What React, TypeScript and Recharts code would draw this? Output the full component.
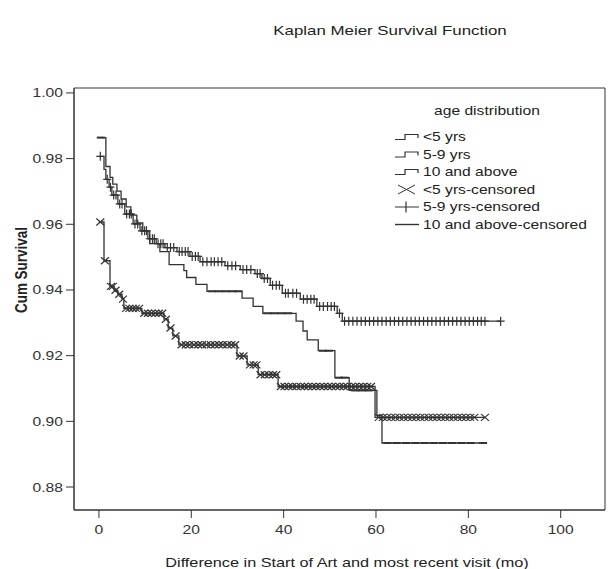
import React from "react";
import { ComposedChart, Line, Scatter, XAxis, YAxis, ReferenceArea } from "recharts";

const W = 610;
const H = 569;
const INK = "#333";
const FONT = "'Liberation Sans', Arial, sans-serif";
// the source figure is stretched sideways, so text is widened to match
const STRETCH = 1.25;

const X_TICKS = [0, 20, 40, 60, 80, 100];
const Y_TICKS = [0.88, 0.9, 0.92, 0.94, 0.96, 0.98, 1.0];

// step changes: month -> cumulative survival
const under5Times = [0, 1.1, 2.4, 3.3, 4.1, 5.0, 5.4, 9.3, 14.1, 15.0, 16.0, 17.3, 29.9, 32.1, 34.5, 38.8, 59.8, 83.6];
const under5Surv = [0.9607, 0.9489, 0.9411, 0.9399, 0.9387, 0.9372, 0.9344, 0.9329, 0.9311, 0.9284, 0.926, 0.9233, 0.9199, 0.9172, 0.9142, 0.9106, 0.9012, 0.9012];

const age59Times = [0, 1.1, 1.5, 2.2, 2.8, 4.1, 5.6, 7.4, 8.9, 10.6, 12.4, 14.3, 16.9, 19.7, 21.9, 27.3, 30.6, 33.8, 35.3, 37.1, 39.7, 43.6, 47.2, 51.6, 52.7, 87.0];
const age59Surv = [0.9807, 0.9767, 0.9737, 0.9713, 0.9689, 0.9662, 0.9631, 0.9601, 0.958, 0.9556, 0.9541, 0.9529, 0.9517, 0.9502, 0.9486, 0.9474, 0.9462, 0.945, 0.9435, 0.9414, 0.939, 0.9372, 0.935, 0.9329, 0.9305, 0.9305];

const over10Times = [0, 1.5, 2.4, 3.0, 3.9, 4.8, 5.9, 6.9, 8.2, 9.5, 11.0, 13.2, 15.2, 18.4, 19.0, 21.0, 23.4, 31.0, 33.4, 35.5, 42.7, 44.2, 45.1, 47.5, 51.1, 54.2, 60.2, 61.3, 83.2];
const over10Surv = [0.9864, 0.9776, 0.9743, 0.9722, 0.9701, 0.9677, 0.9653, 0.9628, 0.9604, 0.958, 0.9541, 0.9517, 0.9477, 0.9459, 0.9438, 0.9417, 0.9396, 0.9375, 0.935, 0.9329, 0.9305, 0.9275, 0.9248, 0.9215, 0.9133, 0.9094, 0.9018, 0.8934, 0.8934];

// censoring times (months)
const under5Censored = [0.3, 1.3, 2.6, 3.0, 3.6, 4.4, 5.2, 5.9, 6.6, 7.3, 8.0, 8.7, 9.8, 10.6, 11.4, 12.2, 13.0, 13.7, 14.5, 15.5, 16.6, 17.9, 18.8, 19.6, 20.6, 21.5, 22.3, 23.3, 24.2, 25.1, 26.0, 26.8, 27.8, 28.7, 29.5, 30.5, 31.3, 32.7, 33.5, 34.1, 35.0, 35.9, 36.8, 37.7, 38.4, 39.4, 40.2, 41.1, 41.9, 42.8, 43.7, 44.5, 45.3, 46.2, 47.0, 47.9, 48.7, 49.6, 50.4, 51.3, 52.1, 53.0, 53.8, 54.7, 55.5, 56.4, 57.2, 58.1, 58.9, 60.6, 61.5, 62.4, 63.3, 64.2, 65.1, 66.0, 66.9, 67.8, 68.7, 69.6, 70.5, 71.4, 72.3, 73.2, 74.1, 75.0, 75.9, 76.8, 77.7, 78.6, 79.5, 80.4, 81.3, 83.6];
const age59Censored = [0.3, 1.8, 2.5, 3.2, 3.7, 4.5, 5.0, 6.0, 6.6, 7.0, 7.8, 8.4, 9.3, 9.9, 10.3, 11.0, 11.6, 12.0, 12.8, 13.4, 13.9, 14.8, 15.5, 16.2, 17.4, 18.0, 18.7, 19.3, 20.2, 20.9, 21.5, 22.5, 23.4, 24.3, 25.0, 25.8, 26.6, 27.9, 28.8, 29.6, 31.2, 32.0, 32.9, 34.3, 34.9, 35.8, 36.5, 37.6, 38.4, 39.1, 40.4, 41.0, 42.0, 42.8, 44.3, 45.1, 45.9, 46.6, 47.8, 48.6, 49.5, 50.3, 51.0, 52.1, 53.2, 54.1, 55.0, 55.9, 56.8, 57.7, 58.6, 59.5, 60.4, 61.3, 62.2, 63.1, 64.0, 64.9, 65.8, 66.7, 67.6, 68.5, 69.4, 70.3, 71.2, 72.1, 73.0, 73.9, 74.8, 75.7, 76.6, 77.5, 78.4, 79.3, 80.2, 81.1, 82.0, 82.8, 83.6, 87.0];
const over10Censored = [0.4, 24.5, 26.0, 27.5, 29.0, 30.2, 36.5, 38.0, 39.5, 41.0, 48.5, 49.8, 52.0, 53.2, 55.5, 57.0, 58.5, 62.5, 64.5, 66.5, 68.5, 70.5, 72.5, 74.5, 76.5, 78.5, 80.5, 83.2];

const toSteps = (times: number[], surv: number[]) => times.map((t, i) => ({ t, s: surv[i] }));

const survAt = (times: number[], surv: number[], t: number) => {
  let s = surv[0];
  times.forEach((tt, i) => {
    if (tt <= t) s = surv[i];
  });
  return s;
};

const toCensored = (times: number[], surv: number[], cens: number[]) =>
  cens.map((t) => ({ t, s: survAt(times, surv, t) }));

const under5Steps = toSteps(under5Times, under5Surv);
const age59Steps = toSteps(age59Times, age59Surv);
const over10Steps = toSteps(over10Times, over10Surv);

const under5Marks = toCensored(under5Times, under5Surv, under5Censored);
const age59Marks = toCensored(age59Times, age59Surv, age59Censored);
const over10Marks = toCensored(over10Times, over10Surv, over10Censored);

const XMark = ({ cx, cy }: any) => (
  <path
    d={`M${cx - 4},${cy - 3.5}L${cx + 4},${cy + 3.5}M${cx - 4},${cy + 3.5}L${cx + 4},${cy - 3.5}`}
    stroke={INK}
    strokeWidth={1.2}
    fill="none"
  />
);

const PlusMark = ({ cx, cy }: any) => (
  <path d={`M${cx - 4},${cy}H${cx + 4}M${cx},${cy - 4.5}V${cy + 4.5}`} stroke={INK} strokeWidth={1.2} fill="none" />
);

const DashMark = ({ cx, cy }: any) => (
  <path d={`M${cx - 4},${cy}H${cx + 4}`} stroke={INK} strokeWidth={2} fill="none" />
);

const stretchAbout = (x: number) => `translate(${x},0) scale(${STRETCH},1) translate(${-x},0)`;

function XTick({ x, y, payload }: any) {
  return (
    <text x={x} y={y} dy={14} textAnchor="middle" fontSize={12.5} fontFamily={FONT} fill={INK} transform={stretchAbout(x)}>
      {payload.value}
    </text>
  );
}

function YTick({ x, y, payload }: any) {
  return (
    <text x={x} y={y} dy={4.5} textAnchor="end" fontSize={12.5} fontFamily={FONT} fill={INK} transform={stretchAbout(x)}>
      {Number(payload.value).toFixed(2)}
    </text>
  );
}

function StepIcon({ x, y }: { x: number; y: number }) {
  return (
    <path d={`M${x},${y + 2.5}H${x + 10}V${y - 2.5}H${x + 23}V${y + 1}`} stroke={INK} strokeWidth={1.2} fill="none" />
  );
}

const legendRows = [
  { label: "<5 yrs", icon: "step" },
  { label: "5-9 yrs", icon: "step" },
  { label: "10 and above", icon: "step" },
  { label: "<5 yrs-censored", icon: "x" },
  { label: "5-9 yrs-censored", icon: "plus" },
  { label: "10 and above-censored", icon: "line" },
];

function Overlay() {
  const lx = 395;
  const tx = 423;
  const top = 137;
  const gap = 17.5;
  return (
    <svg width={W} height={H} style={{ position: "absolute", left: 0, top: 0, pointerEvents: "none" }}>
      <g fontFamily={FONT} fill="#222">
        <text x={390} y={35} fontSize={13.5} textAnchor="middle" transform={stretchAbout(390)}>
          Kaplan Meier Survival Function
        </text>
        <text x={347} y={567} fontSize={13} textAnchor="middle" transform={stretchAbout(347)}>
          Difference in Start of Art and most recent visit (mo)
        </text>
        <text
          transform={`translate(26.5,270) scale(${STRETCH},1) rotate(-90)`}
          fontSize={13.5}
          fontWeight="bold"
          textAnchor="middle"
        >
          Cum Survival
        </text>
        <text x={487} y={115} fontSize={12.5} textAnchor="middle" transform={stretchAbout(487)}>
          age distribution
        </text>
        {legendRows.map((r, i) => {
          const cy = top + i * gap;
          return (
            <g key={r.label}>
              {r.icon === "step" && <StepIcon x={lx} y={cy} />}
              {r.icon === "x" && (
                <path
                  d={`M${lx + 3},${cy - 4.5}L${lx + 20},${cy + 4.5}M${lx + 3},${cy + 4.5}L${lx + 20},${cy - 4.5}`}
                  stroke={INK}
                  strokeWidth={1}
                  fill="none"
                />
              )}
              {r.icon === "plus" && (
                <path d={`M${lx},${cy}H${lx + 24}M${lx + 11},${cy - 5.5}V${cy + 5.5}`} stroke={INK} strokeWidth={1.2} fill="none" />
              )}
              {r.icon === "line" && <path d={`M${lx},${cy}H${lx + 24}`} stroke={INK} strokeWidth={1.4} fill="none" />}
              <text x={tx} y={cy + 4.5} fontSize={12.5} transform={stretchAbout(tx)}>
                {r.label}
              </text>
            </g>
          );
        })}
      </g>
    </svg>
  );
}

export default function App() {
  const xDomain: [number, number] = [-5.4, 109.6];
  const yDomain: [number, number] = [0.873, 1.0015];
  return (
    <div style={{ position: "absolute", left: 0, top: 0, width: W, height: H, background: "#fff" }}>
      <ComposedChart width={W} height={H} margin={{ top: 88, right: 5, bottom: 0, left: 0 }}>
        <XAxis
          dataKey="t"
          type="number"
          domain={xDomain}
          ticks={X_TICKS}
          allowDataOverflow
          height={59}
          tickSize={8}
          tickMargin={2}
          axisLine={{ stroke: INK }}
          tickLine={{ stroke: INK }}
          tick={<XTick />}
        />
        <YAxis
          dataKey="s"
          type="number"
          domain={yDomain}
          ticks={Y_TICKS}
          allowDataOverflow
          width={74}
          tickSize={8}
          tickMargin={3}
          axisLine={{ stroke: INK }}
          tickLine={{ stroke: INK }}
          tick={<YTick />}
        />
        <ReferenceArea x1={xDomain[0]} x2={xDomain[1]} y1={yDomain[0]} y2={yDomain[1]} fill="none" stroke={INK} strokeWidth={1} />
        <Line data={under5Steps} dataKey="s" type="stepAfter" stroke={INK} strokeWidth={1.3} dot={false} isAnimationActive={false} />
        <Line data={age59Steps} dataKey="s" type="stepAfter" stroke={INK} strokeWidth={1.3} dot={false} isAnimationActive={false} />
        <Line data={over10Steps} dataKey="s" type="stepAfter" stroke={INK} strokeWidth={1.3} dot={false} isAnimationActive={false} />
        <Scatter data={under5Marks} dataKey="s" shape={<XMark />} isAnimationActive={false} />
        <Scatter data={age59Marks} dataKey="s" shape={<PlusMark />} isAnimationActive={false} />
        <Scatter data={over10Marks} dataKey="s" shape={<DashMark />} isAnimationActive={false} />
      </ComposedChart>
      <Overlay />
    </div>
  );
}
